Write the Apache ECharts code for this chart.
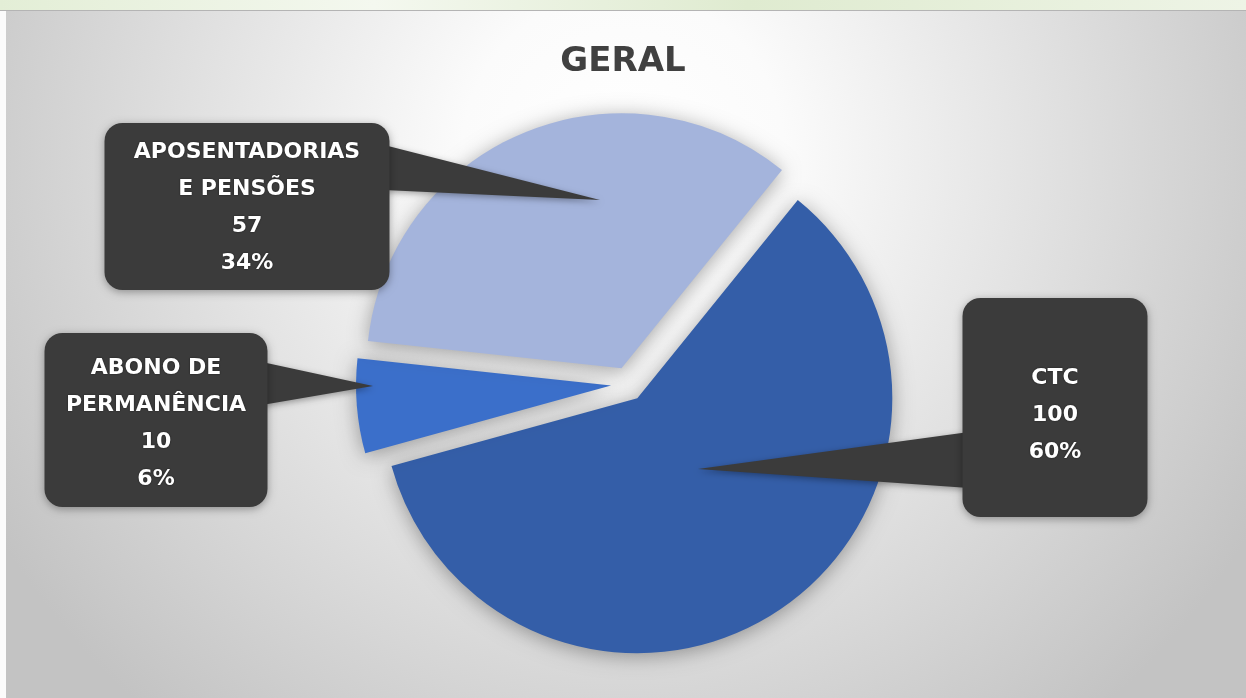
<!DOCTYPE html>
<html>
<head>
<meta charset="utf-8">
<style>
  html, body { margin: 0; padding: 0; background: #ffffff; }
  #chart { width: 1246px; height: 698px; }
</style>
<script src="https://cdn.jsdelivr.net/npm/echarts@6/dist/echarts.min.js"></script>
</head>
<body>
<div id="chart"></div>
<script>
// dados do gráfico
var categories = ['CTC', 'ABONO DE\nPERMANÊNCIA', 'APOSENTADORIAS\nE PENSÕES'];
var values = [100, 10, 57];
var colors = ['#345ea8', '#3b6fca', '#a4b4dc'];

// caixas dos rótulos (posição / tamanho)
var labelBoxes = [
  { x: 1055, y: 298, width: 185, padding: [62, 0, 46, 0] },
  { x: 156, y: 333, width: 223, padding: [17, 0, 9, 0] },
  { x: 247, y: 123, width: 285, padding: [11, 0, 8, 0] }
];

// setas dos balões
var pointers = [
  [[969, 432], [698, 469], [969, 488]],
  [[262, 362], [373, 386], [262, 405]],
  [[384, 145], [600, 200], [384, 190]]
];

var total = values.reduce(function (a, b) { return a + b; }, 0);

var chart = echarts.init(document.getElementById('chart'));

var seriesData = categories.map(function (name, i) {
  return {
    name: name,
    value: values[i],
    selected: true,
    itemStyle: { color: colors[i] }
  };
});

var graphics = [
  {
    type: 'rect',
    shape: { x: 0, y: 0, width: 1246, height: 10 },
    style: {
      fill: {
        type: 'linear', x: 0, y: 0, x2: 1, y2: 0,
        colorStops: [
          { offset: 0, color: '#e3eed6' },
          { offset: 0.3, color: '#f4f8ef' },
          { offset: 0.6, color: '#dfebd0' },
          { offset: 1, color: '#eef4e6' }
        ]
      }
    },
    z: 1
  },
  {
    type: 'rect',
    shape: { x: 0, y: 10, width: 1246, height: 1 },
    style: { fill: '#b4b4b4' },
    z: 1
  },
  {
    type: 'rect',
    shape: { x: 0, y: 11, width: 6, height: 687 },
    style: { fill: '#fbfbfb' },
    z: 1
  }
];

pointers.forEach(function (pts) {
  graphics.push({
    type: 'polygon',
    shape: { points: pts },
    style: {
      fill: '#3b3b3b',
      shadowBlur: 6,
      shadowColor: 'rgba(0,0,0,0.35)',
      shadowOffsetY: 2
    },
    z: 10
  });
});

// rótulos em balão: nome, valor e percentual
categories.forEach(function (name, i) {
  var b = labelBoxes[i];
  graphics.push({
    type: 'text',
    x: b.x,
    y: b.y,
    z: 20,
    style: {
      text: name + '\n' + values[i] + '\n' + Math.round(values[i] / total * 100) + '%',
      fill: '#ffffff',
      font: 'bold 22px "DejaVu Sans"',
      lineHeight: 37,
      align: 'center',
      verticalAlign: 'top',
      width: b.width,
      padding: b.padding,
      backgroundColor: '#3b3b3b',
      borderRadius: 18,
      shadowBlur: 8,
      shadowColor: 'rgba(0,0,0,0.35)',
      shadowOffsetY: 2,
      textShadowBlur: 2,
      textShadowColor: 'rgba(0,0,0,0.6)'
    }
  });
});

chart.setOption({
  animation: false,
  backgroundColor: {
    type: 'radial',
    x: 0.5,
    y: 0.22,
    r: 1.05,
    colorStops: [
      { offset: 0, color: '#ffffff' },
      { offset: 0.22, color: '#fbfbfb' },
      { offset: 1, color: '#c3c3c3' }
    ]
  },
  title: {
    text: 'GERAL',
    left: 'center',
    top: 40,
    textStyle: {
      fontFamily: 'DejaVu Sans',
      fontWeight: 'bold',
      fontSize: 34,
      color: '#404040'
    }
  },
  graphic: graphics,
  series: [{
    type: 'pie',
    center: [628, 384],
    radius: 255,
    startAngle: 51,
    clockwise: true,
    selectedMode: 'multiple',
    selectedOffset: 17,
    emphasis: { disabled: true },
    itemStyle: {
      shadowBlur: 20,
      shadowColor: 'rgba(0,0,0,0.35)',
      shadowOffsetY: 3
    },
    label: { show: false },
    labelLine: { show: false },
    data: seriesData
  }]
});
</script>
</body>
</html>
